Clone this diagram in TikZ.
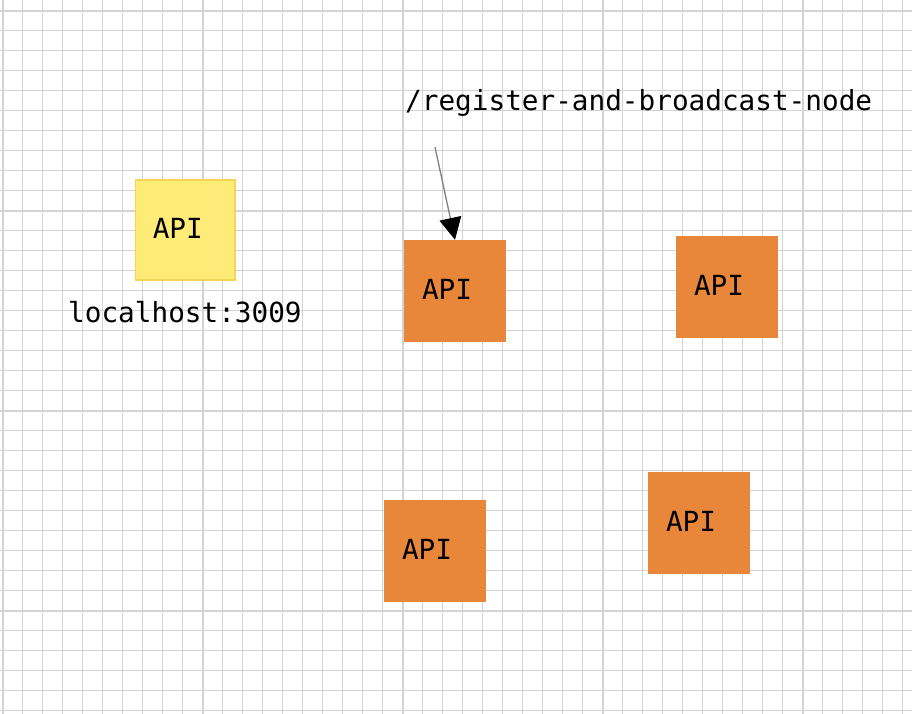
\documentclass[tikz,border=0pt]{standalone}
\usepackage{fontspec}
\setmonofont{DejaVu Sans Mono}
\usetikzlibrary{arrows.meta}
\definecolor{gridgray}{HTML}{D3D3D3}
\definecolor{apiorange}{HTML}{E8873A}
\definecolor{apiyellow}{HTML}{FFEC78}
\definecolor{apiedge}{HTML}{F6D456}
\tikzset{
	apibox/.style={rectangle, minimum height=102pt, text width=66pt, inner xsep=18pt, inner ysep=0pt, text depth=4pt, align=left, font=\ttfamily\fontsize{27.7}{33}\selectfont},
	orangebox/.style={apibox, fill=apiorange},
	yellowbox/.style={apibox, fill=apiyellow, draw=apiedge, line width=1.5pt, minimum height=100pt, text width=64.5pt, inner xsep=17.5pt},
	caption/.style={anchor=base west, inner sep=0pt, font=\ttfamily\fontsize{27.7}{33}\selectfont}
}
\begin{document}
\begin{tikzpicture}[x=1pt, y=-1pt]
		\useasboundingbox (0,0) rectangle (912,714);
		%Background grid
		\foreach \x in {0,...,45}
		\draw[gridgray, line width=1pt] (2.7+20*\x,0)--(2.7+20*\x,714);
		\foreach \y in {0,...,35}
		\draw[gridgray, line width=1pt] (0,10.7+20*\y)--(912,10.7+20*\y);
		\foreach \x in {0,...,4}
		\draw[gridgray, line width=2pt] (2.7+200*\x,0)--(2.7+200*\x,714);
		\foreach \y in {0,...,3}
		\draw[gridgray, line width=2pt] (0,10.7+200*\y)--(912,10.7+200*\y);
		%Local API and its address
		\node[yellowbox] (local) at (185,230) {API};
		\node[caption] (localaddr) at (68,322) {localhost:3009};
		%Network APIs
		\node[orangebox] (api1) at (455,291) {API};
		\node[orangebox] (api2) at (727,287) {API};
		\node[orangebox] (api3) at (435,551) {API};
		\node[orangebox] (api4) at (699,523) {API};
		%Register call
		\node[caption] (route) at (405,111) {/register-and-broadcast-node};
		\coordinate (callstart) at (435,147);
		\draw[gray, line width=1.3pt, -{Triangle[length=22pt, width=22pt, black]}] (callstart)--(api1.north);
		\end{tikzpicture}
\end{document}
